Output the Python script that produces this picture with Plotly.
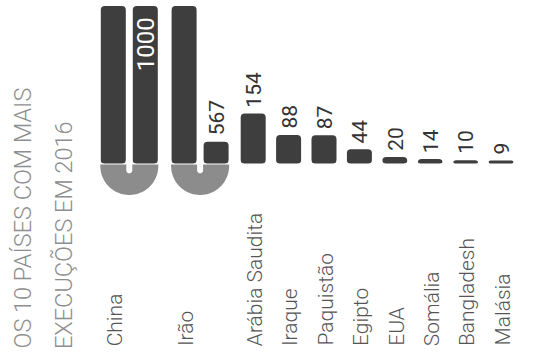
import numpy as np
import plotly.graph_objects as go

# ---------------- data ----------------
countries = ["China", "Irão", "Arábia Saudita", "Iraque", "Paquistão",
             "Egipto", "EUA", "Somália", "Bangladesh", "Malásia"]
executions = [1000, 567, 154, 88, 87, 44, 20, 14, 10, 9]
value_labels = ["1000", "567", "154", "88", "87", "44", "20", "14", "10", "9"]
title_lines = ["OS 10 PAÍSES COM MAIS", "EXECUÇÕES EM 2016"]

# ---------------- layout constants ----------------
W, H = 537, 362
BASE_PX = 163.5          # pixel row of the zero line
PX_PER_UNIT = 0.325      # vertical scale
CAP = 485                # longest straight bar before it wraps
ARC = 15                 # units taken by the U turn
SLOT = 35.4              # horizontal pitch
X0 = 111.6               # centre of first slot
SUB = 16                 # half distance of the two wrapped sub-bars
BAR_W = 25
BAR_COLOR = "#3e3e3e"
ARC_COLOR = "#8c8c8c"

y_top = BASE_PX / PX_PER_UNIT
y_bot = -(H - BASE_PX) / PX_PER_UNIT

bar_x, bar_len = [], []
arc_centres = []
annotations = []
slot = 0
for name, v, lab in zip(countries, executions, value_labels):
    if v > CAP:
        c = X0 + (slot + 0.5) * SLOT
        xs = [c - SUB, c + SUB]
        lens = [CAP, min(v - CAP - ARC, CAP)]
        arc_centres.append(c)
        slot += 2
    else:
        xs = [X0 + slot * SLOT]
        lens = [v]
        slot += 1
    bar_x += xs
    bar_len += lens
    # country label
    annotations.append(dict(
        x=xs[0] + 1.5, y=1 - 348 / H, xref="x", yref="paper", text=name,
        textangle=-90, xanchor="center", yanchor="bottom", showarrow=False,
        font=dict(family="Roboto", size=21, color="#555555", weight=300)))
    # value label
    if lens[-1] >= CAP:
        annotations.append(dict(
            x=xs[-1] + 1, y=lens[-1], xref="x", yref="y", text=lab,
            textangle=-90, xanchor="center", yanchor="top", yshift=-9,
            showarrow=False,
            font=dict(family="Roboto", size=24, color="#ffffff", weight=400)))
    else:
        annotations.append(dict(
            x=xs[-1] + 1, y=lens[-1], xref="x", yref="y", text=lab,
            textangle=-90, xanchor="center", yanchor="bottom", yshift=4,
            showarrow=False,
            font=dict(family="Roboto", size=21, color="#333333", weight=400)))

fig = go.Figure()
fig.add_trace(go.Bar(x=bar_x, y=bar_len, width=BAR_W,
                     marker=dict(color=BAR_COLOR, cornerradius=4, line=dict(width=0)),
                     hoverinfo="skip"))


def u_path():
    R, top, cy, sw, sd = 29.0, -1.0, -2.5, 3.0, -9.8
    pts = [(-R, top)]
    for t in np.linspace(np.pi, 2 * np.pi, 48):
        pts.append((R * np.cos(t), cy + R * np.sin(t)))
    pts.append((R, top))
    pts.append((sw, top))
    for t in np.linspace(0, -np.pi, 16):
        pts.append((sw * np.cos(t), sd + sw + sw * np.sin(t)))
    pts.append((-sw, top))
    return "M" + " L".join(f"{x:.2f},{y:.2f}" for x, y in pts) + " Z"


def corner_mask(side, rb):
    # white patch that rounds a bottom corner of a bar (pixel units, y up)
    xe = side * BAR_W / 2
    xc = xe - side * rb
    pts = [(xe + side * 0.6, -0.6), (xe + side * 0.6, rb)]
    for t in np.linspace(0, -np.pi / 2, 10):
        pts.append((xc + side * rb * np.cos(t), rb + rb * np.sin(t)))
    pts.append((xc, -0.6))
    return "M" + " L".join(f"{x:.2f},{y:.2f}" for x, y in pts) + " Z"


shapes = []
for c in arc_centres:
    shapes.append(dict(type="path", xref="x", yref="y", xsizemode="pixel",
                       ysizemode="pixel", xanchor=c, yanchor=0, path=u_path(),
                       fillcolor=ARC_COLOR, line=dict(width=0)))
for bx, L in zip(bar_x, bar_len):
    rb = min(3.0, L * PX_PER_UNIT / 2)
    for side in (-1, 1):
        shapes.append(dict(type="path", xref="x", yref="y", xsizemode="pixel",
                           ysizemode="pixel", xanchor=bx, yanchor=0,
                           path=corner_mask(side, rb),
                           fillcolor="white", line=dict(width=0)))

title_font = dict(family="Roboto", size=23.5, color="#8e8e8e", weight=300)
for i, line in enumerate(title_lines):
    annotations.append(dict(
        x=(22 + 41 * i) / W, y=1 - 351 / H, xref="paper", yref="paper", text=line,
        textangle=-90, xanchor="center", yanchor="bottom", showarrow=False,
        font=title_font))

fig.update_layout(
    width=W, height=H, margin=dict(l=0, r=0, t=0, b=0),
    showlegend=False,
    plot_bgcolor="white", paper_bgcolor="white",
    xaxis=dict(range=[0, W], visible=False, fixedrange=True),
    yaxis=dict(range=[y_bot, y_top], visible=False, fixedrange=True),
    shapes=shapes, annotations=annotations,
)
fig.write_html("out.html")
